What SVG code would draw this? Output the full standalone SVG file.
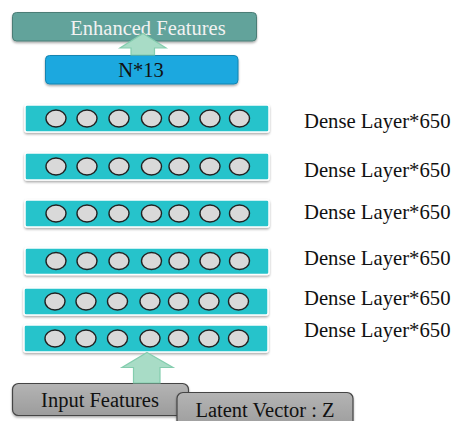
<svg xmlns="http://www.w3.org/2000/svg" width="451" height="421" viewBox="0 0 451 421">
  <defs>
    <filter id="shadow" x="-5%" y="-20%" width="110%" height="150%">
      <feDropShadow dx="0" dy="1.5" stdDeviation="1" flood-color="#000" flood-opacity="0.35"/>
    </filter>
    <linearGradient id="grey" x1="0" y1="0" x2="0" y2="1">
      <stop offset="0" stop-color="#b4b4b4"/>
      <stop offset="1" stop-color="#9c9c9c"/>
    </linearGradient>
  </defs>
  <style>
    .txt { font-family: "Liberation Serif", "Times New Roman", serif; font-size: 20.5px; }
    .bar { fill: #27c3cb; stroke: #ffffff; stroke-width: 1.5; filter: url(#shadow); }
    .node { fill: #d9d9d9; stroke: #222; stroke-width: 1.4; }
    .arrow { fill: #a8dcc6; stroke: #84cdae; stroke-width: 1.2; }
    .io { fill: url(#grey); stroke: #444; stroke-width: 1.2; filter: url(#shadow); }
    .lbl { font-family: "Liberation Serif", "Times New Roman", serif; font-size: 20.7px; fill: #111; }
  </style>

  <!-- output block -->
  <g id="enhanced">
    <rect x="12.5" y="12.5" width="244" height="28.5" rx="4" fill="#62a39b" stroke="#4b7d76" stroke-width="1" filter="url(#shadow)"/>
    <text class="txt" x="148" y="35" text-anchor="middle" fill="#f2f2f2">Enhanced Features</text>
  </g>

  <g id="out13">
    <rect x="45.5" y="55.5" width="192.5" height="28.5" rx="4" fill="#1ba8df" stroke="#1784b0" stroke-width="1" filter="url(#shadow)"/>
    <text class="txt" x="141" y="77" text-anchor="middle" fill="#111">N*13</text>
  </g>

  <!-- dense layers -->
  <g id="dense1">
    <rect class="bar" x="25" y="105" width="244" height="27" rx="2"/>
    <g transform="translate(0,118.5)">
      <ellipse class="node" cx="56" cy="0" rx="10" ry="8.5"/>
      <ellipse class="node" cx="87" cy="0" rx="10" ry="8.5"/>
      <ellipse class="node" cx="119" cy="0" rx="10" ry="8.5"/>
      <ellipse class="node" cx="151.5" cy="0" rx="10" ry="8.5"/>
      <ellipse class="node" cx="179" cy="0" rx="10" ry="8.5"/>
      <ellipse class="node" cx="210" cy="0" rx="10" ry="8.5"/>
      <ellipse class="node" cx="239.5" cy="0" rx="10" ry="8.5"/>
    </g>
    <text class="lbl" x="304" y="127.5">Dense Layer*650</text>
  </g>
  <g id="dense2">
    <rect class="bar" x="25" y="153" width="244" height="27" rx="2"/>
    <g transform="translate(0,166.5)">
      <ellipse class="node" cx="56" cy="0" rx="10" ry="8.5"/>
      <ellipse class="node" cx="87" cy="0" rx="10" ry="8.5"/>
      <ellipse class="node" cx="119" cy="0" rx="10" ry="8.5"/>
      <ellipse class="node" cx="151.5" cy="0" rx="10" ry="8.5"/>
      <ellipse class="node" cx="179" cy="0" rx="10" ry="8.5"/>
      <ellipse class="node" cx="210" cy="0" rx="10" ry="8.5"/>
      <ellipse class="node" cx="239.5" cy="0" rx="10" ry="8.5"/>
    </g>
    <text class="lbl" x="304" y="177">Dense Layer*650</text>
  </g>
  <g id="dense3">
    <rect class="bar" x="25" y="200" width="244" height="27" rx="2"/>
    <g transform="translate(0,213.5)">
      <ellipse class="node" cx="56" cy="0" rx="10" ry="8.5"/>
      <ellipse class="node" cx="87" cy="0" rx="10" ry="8.5"/>
      <ellipse class="node" cx="119" cy="0" rx="10" ry="8.5"/>
      <ellipse class="node" cx="151.5" cy="0" rx="10" ry="8.5"/>
      <ellipse class="node" cx="179" cy="0" rx="10" ry="8.5"/>
      <ellipse class="node" cx="210" cy="0" rx="10" ry="8.5"/>
      <ellipse class="node" cx="239.5" cy="0" rx="10" ry="8.5"/>
    </g>
    <text class="lbl" x="304" y="219">Dense Layer*650</text>
  </g>
  <g id="dense4">
    <rect class="bar" x="25" y="248" width="244" height="26.5" rx="2"/>
    <g transform="translate(0,261)">
      <ellipse class="node" cx="56" cy="0" rx="10" ry="8.5"/>
      <ellipse class="node" cx="87" cy="0" rx="10" ry="8.5"/>
      <ellipse class="node" cx="119" cy="0" rx="10" ry="8.5"/>
      <ellipse class="node" cx="151.5" cy="0" rx="10" ry="8.5"/>
      <ellipse class="node" cx="179" cy="0" rx="10" ry="8.5"/>
      <ellipse class="node" cx="210" cy="0" rx="10" ry="8.5"/>
      <ellipse class="node" cx="239.5" cy="0" rx="10" ry="8.5"/>
    </g>
    <text class="lbl" x="304" y="265">Dense Layer*650</text>
  </g>
  <g id="dense5">
    <rect class="bar" x="24" y="288" width="244" height="27" rx="2"/>
    <g transform="translate(0,301.5)">
      <ellipse class="node" cx="55" cy="0" rx="10" ry="8.5"/>
      <ellipse class="node" cx="86" cy="0" rx="10" ry="8.5"/>
      <ellipse class="node" cx="117.5" cy="0" rx="10" ry="8.5"/>
      <ellipse class="node" cx="150" cy="0" rx="10" ry="8.5"/>
      <ellipse class="node" cx="178.5" cy="0" rx="10" ry="8.5"/>
      <ellipse class="node" cx="209" cy="0" rx="10" ry="8.5"/>
      <ellipse class="node" cx="238.5" cy="0" rx="10" ry="8.5"/>
    </g>
    <text class="lbl" x="304" y="305">Dense Layer*650</text>
  </g>
  <g id="dense6">
    <rect class="bar" x="24" y="325" width="244" height="27" rx="2"/>
    <g transform="translate(0,338.5)">
      <ellipse class="node" cx="55" cy="0" rx="10" ry="8.5"/>
      <ellipse class="node" cx="86" cy="0" rx="10" ry="8.5"/>
      <ellipse class="node" cx="117.5" cy="0" rx="10" ry="8.5"/>
      <ellipse class="node" cx="150" cy="0" rx="10" ry="8.5"/>
      <ellipse class="node" cx="178.5" cy="0" rx="10" ry="8.5"/>
      <ellipse class="node" cx="209" cy="0" rx="10" ry="8.5"/>
      <ellipse class="node" cx="238.5" cy="0" rx="10" ry="8.5"/>
    </g>
    <text class="lbl" x="304" y="337">Dense Layer*650</text>
  </g>

  <!-- inputs -->
  <g id="input">
    <rect class="io" x="12.5" y="383.5" width="176" height="32" rx="6"/>
    <text class="txt" x="100" y="407" text-anchor="middle" fill="#111">Input Features</text>
  </g>
  <g id="latent">
    <rect class="io" x="177" y="392.5" width="176" height="36" rx="6"/>
    <text class="txt" x="265" y="416.5" text-anchor="middle" fill="#111">Latent Vector : Z</text>
  </g>

  <!-- block arrows -->
  <g id="connectors">
    <polygon class="arrow" points="147,352.5 173,367.5 160,367.5 160,383 133.5,383 133.5,367.5 122,367.5"/>
    <polygon class="arrow" points="143,33.5 166,48 154.5,48 154.5,55 131,55 131,48 120,48"/>
  </g>
</svg>
